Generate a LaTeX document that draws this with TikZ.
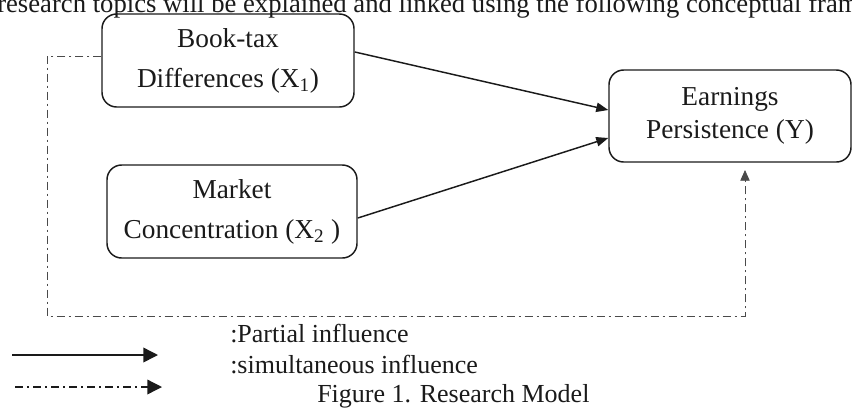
\documentclass[tikz,border=0pt]{standalone}
\usepackage{fontspec}
\setmainfont{Liberation Serif}
\usetikzlibrary{arrows.meta}
\definecolor{ink}{HTML}{1A1A1A}
\definecolor{dashink}{HTML}{4A4A4A}
\tikzset{
  varbox/.style={draw=ink, line width=1.1pt, rounded corners=11pt, align=center,
    text=ink, inner sep=0pt},
  boxfont/.style={font=\fontsize{20.5}{30}\selectfont},
  arr/.style={draw=ink, line width=1.1pt, -{Triangle[length=9pt,width=7pt]}},
  ddline/.style={draw=dashink, line width=0.6pt,
    dash pattern=on 6pt off 3pt on 1.5pt off 3pt},
  legtext/.style={anchor=base west, inner sep=0pt, text=ink,
    font=\fontsize{19.5}{22}\selectfont},
}
\begin{document}
\begin{tikzpicture}[x=0.75pt,y=-0.75pt]
\useasboundingbox (0,0) rectangle (852,408);
\clip (0,0) rectangle (852,408);

% running text above the figure
\node[legtext, font=\fontsize{20}{22}\selectfont] (intro) at (-3,12) {research topics will be explained and linked using the following conceptual framework};

% variables
\node[varbox, boxfont, minimum width=189pt, minimum height=69.75pt] (bt) at (228,60.5)
  {Book-tax\\Differences (X\textsubscript{1})};
\node[varbox, boxfont, minimum width=187.5pt, minimum height=69.75pt] (mc) at (232,211.5)
  {Market\\Concentration (X\textsubscript{2} )};
\node[varbox, font=\fontsize{20.5}{25}\selectfont, minimum width=181.5pt, minimum height=69pt] (ep) at (730,116)
  {Earnings\\Persistence (Y)};

% partial influences
\draw[arr] ([yshift=6.4pt]bt.east) -- ([yshift=4.5pt]ep.west);
\draw[arr] ([yshift=-4.9pt]mc.east) -- ([yshift=-16.5pt]ep.west);

% simultaneous influence
\coordinate (simtip) at (745,170);
\draw[ddline, -{Triangle[length=8pt,width=7pt]}] ([yshift=3.4pt]bt.west) -| (47,316) -| (simtip);

% legend
\coordinate (l1a) at (12,355);
\coordinate (l1b) at (158,355);
\coordinate (l2a) at (15,387);
\coordinate (l2b) at (162,387);
\draw[draw=ink, line width=1.1pt, -{Triangle[length=11pt,width=11pt]}] (l1a) -- (l1b);
\draw[draw=ink, line width=1pt, dash pattern=on 6pt off 3pt on 1.5pt off 3pt,
  -{Triangle[length=11pt,width=11pt]}] (l2a) -- (l2b);
\node[legtext] (lp) at (230,342) {:Partial influence};
\node[legtext] (ls) at (230,373) {:simultaneous influence};
\node[legtext] (cap) at (317,402) {Figure 1. Research Model};
\end{tikzpicture}
\end{document}
